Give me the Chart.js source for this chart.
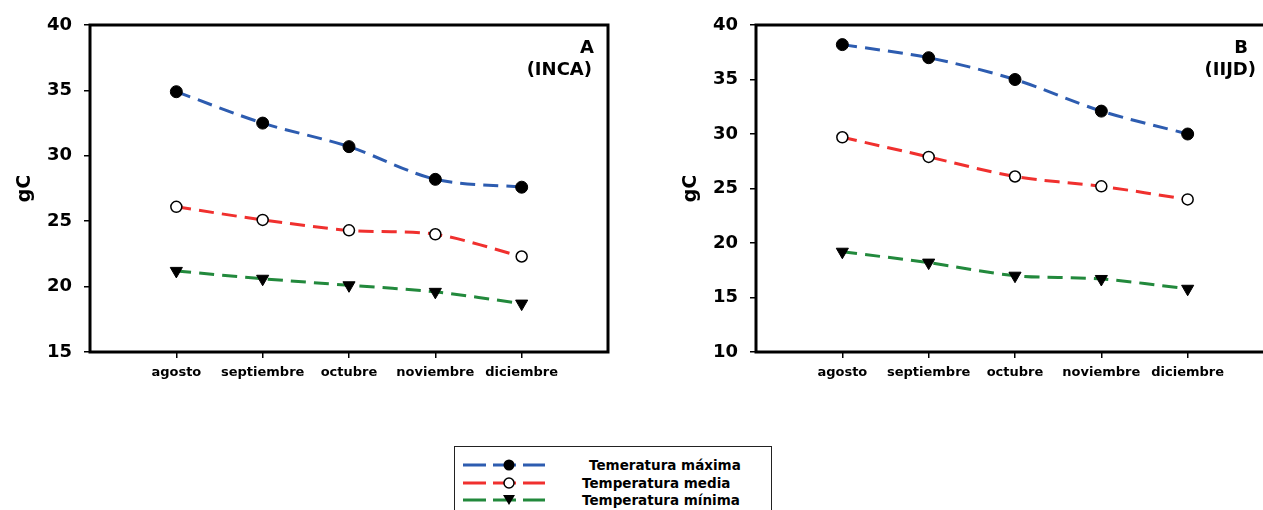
<!DOCTYPE html>
<html>
<head>
<meta charset="utf-8">
<script src="https://cdn.jsdelivr.net/npm/chart.js@4"></script>
<style>
  html, body { margin: 0; padding: 0; background: #fff; overflow: hidden; }
  body { width: 1263px; height: 510px; position: relative; }
  canvas { position: absolute; top: 0; }
  #chartA { left: 0; }
  #chartB { left: 666px; }
  #legend {
    position: absolute; left: 454px; top: 446px; width: 318px; height: 80px;
    border: 1.5px solid #222; box-sizing: border-box;
    font: bold 13.5px "DejaVu Sans", sans-serif; color: #000;
  }
  #legend .row { position: absolute; left: 0; height: 16px; }
  #legend svg { position: absolute; left: 7px; top: 0; }
  #legend span { position: absolute; top: 0; line-height: 16px; white-space: nowrap; }
</style>
</head>
<body>
<canvas id="chartA" width="640" height="400"></canvas>
<canvas id="chartB" width="640" height="400"></canvas>
<div id="legend"></div>

<script>
// --- data ---
const categories = ["agosto", "septiembre", "octubre", "noviembre", "diciembre"];
const seriesNames = ["Temeratura máxima", "Temperatura media", "Temperatura mínima"];

// panel A (INCA)
const maxA = [34.9, 32.5, 30.7, 28.2, 27.6];
const medA = [26.1, 25.1, 24.3, 24.0, 22.3];
const minA = [21.2, 20.6, 20.1, 19.6, 18.7];
const ticksA = [15, 20, 25, 30, 35, 40];

// panel B (IIJD)
const maxB = [38.2, 37.0, 35.0, 32.1, 30.0];
const medB = [29.7, 27.9, 26.1, 25.2, 24.0];
const minB = [19.2, 18.2, 17.0, 16.7, 15.8];
const ticksB = [10, 15, 20, 25, 30, 35, 40];

const lineColors = ["#2d5cb0", "#f0302e", "#22893c"];
const FONT = '"DejaVu Sans", sans-serif';

// frame round the plot area plus the panel letter / site text
const framePlugin = {
    id: "frame",
    beforeDatasetsDraw(chart) {
        const { ctx, chartArea: a } = chart;
        ctx.save();
        ctx.strokeStyle = "#000";
        ctx.lineWidth = 3;
        ctx.strokeRect(a.left, a.top, a.right - a.left, a.bottom - a.top);
        ctx.restore();
    },
    afterDraw(chart, args, opts) {
        const { ctx, chartArea: a } = chart;
        ctx.save();
        ctx.fillStyle = "#000";
        ctx.textAlign = "right";
        ctx.textBaseline = "alphabetic";
        ctx.font = "bold 18px " + FONT;
        ctx.fillText(opts.letter, a.right - opts.letterInset, a.top + 28);
        ctx.fillText(opts.site, a.right - opts.siteInset, a.top + 50);
        ctx.restore();
    },
};

const toPoints = (values) => values.map((v, i) => ({ x: i + 1, y: v }));

const makeDatasets = (maxV, medV, minV) => [
    {
        label: seriesNames[0], data: toPoints(maxV),
        borderColor: lineColors[0], pointStyle: "circle", pointRadius: 6,
        pointBackgroundColor: "#000", pointBorderColor: "#000", pointBorderWidth: 1,
    },
    {
        label: seriesNames[1], data: toPoints(medV),
        borderColor: lineColors[1], pointStyle: "circle", pointRadius: 5.5,
        pointBackgroundColor: "#fff", pointBorderColor: "#000", pointBorderWidth: 1.5,
    },
    {
        label: seriesNames[2], data: toPoints(minV),
        borderColor: lineColors[2], pointStyle: "triangle", pointRadius: 7, pointRotation: 180,
        pointBackgroundColor: "#000", pointBorderColor: "#000", pointBorderWidth: 1,
    },
].map((d) => ({ ...d, borderWidth: 3, borderDash: [15, 8], tension: 0.3, fill: false }));

const buildChart = (canvasId, maxV, medV, minV, yTicks, note) => {
    const ctx = document.getElementById(canvasId).getContext("2d");
    return new Chart(ctx, {
        type: "line",
        data: { datasets: makeDatasets(maxV, medV, minV) },
        plugins: [framePlugin],
        options: {
            responsive: false,
            animation: false,
            layout: { padding: { top: 25, right: note.rightPad, left: 0, bottom: 0 } },
            plugins: {
                legend: { display: false },
                tooltip: { enabled: false },
                frame: note,
            },
            scales: {
                x: {
                    type: "linear",
                    min: 0,
                    max: categories.length + 1,
                    afterBuildTicks: (scale) => {
                        scale.ticks = categories.map((c, i) => ({ value: i + 1 }));
                    },
                    afterFit: (scale) => { scale.height = 48; },
                    border: { display: false },
                    grid: { drawOnChartArea: false, drawTicks: true, tickLength: 6, color: "#000", lineWidth: 1.5 },
                    ticks: {
                        padding: 7,
                        color: "#000",
                        font: { family: FONT, size: 13, weight: "bold" },
                        maxRotation: 0,
                        autoSkip: false,
                        callback: (v) => categories[v - 1],
                    },
                },
                y: {
                    min: yTicks[0],
                    max: yTicks[yTicks.length - 1],
                    afterBuildTicks: (scale) => {
                        scale.ticks = yTicks.map((v) => ({ value: v }));
                    },
                    afterFit: (scale) => { scale.width = 90; },
                    border: { display: false },
                    grid: { drawOnChartArea: false, drawTicks: true, tickLength: 6, color: "#000", lineWidth: 1.5 },
                    ticks: {
                        padding: 12,
                        color: "#000",
                        font: { family: FONT, size: 18, weight: "bold" },
                    },
                    title: {
                        display: true,
                        text: "gC",
                        color: "#000",
                        font: { family: FONT, size: 19, weight: "bold" },
                        padding: { top: 14, bottom: 0 },
                    },
                },
            },
        },
    });
};

buildChart("chartA", maxA, medA, minA, ticksA,
    { letter: "A", site: "(INCA)", letterInset: 14, siteInset: 16, rightPad: 32 });
buildChart("chartB", maxB, medB, minB, ticksB,
    { letter: "B", site: "(IIJD)", letterInset: 26, siteInset: 18, rightPad: 32 });

// shared legend below both panels
const legendRowsY = [10, 28, 45];
const legendTextX = [134, 127, 127];
const markerSvg = [
    '<circle cx="47" cy="8" r="5.5" fill="#000"/>',
    '<circle cx="47" cy="8" r="5" fill="#fff" stroke="#000" stroke-width="1.5"/>',
    '<polygon points="41,3 53,3 47,13" fill="#000"/>',
];
const legend = document.getElementById("legend");
seriesNames.forEach((name, i) => {
    const row = document.createElement("div");
    row.className = "row";
    row.style.top = legendRowsY[i] + "px";
    row.innerHTML =
        '<svg width="90" height="16">' +
        '<line x1="1" y1="8" x2="83" y2="8" stroke="' + lineColors[i] +
        '" stroke-width="3" stroke-dasharray="23 7"/>' + markerSvg[i] + "</svg>" +
        '<span style="left:' + legendTextX[i] + 'px">' + name + "</span>";
    legend.appendChild(row);
});
</script>
</body>
</html>
